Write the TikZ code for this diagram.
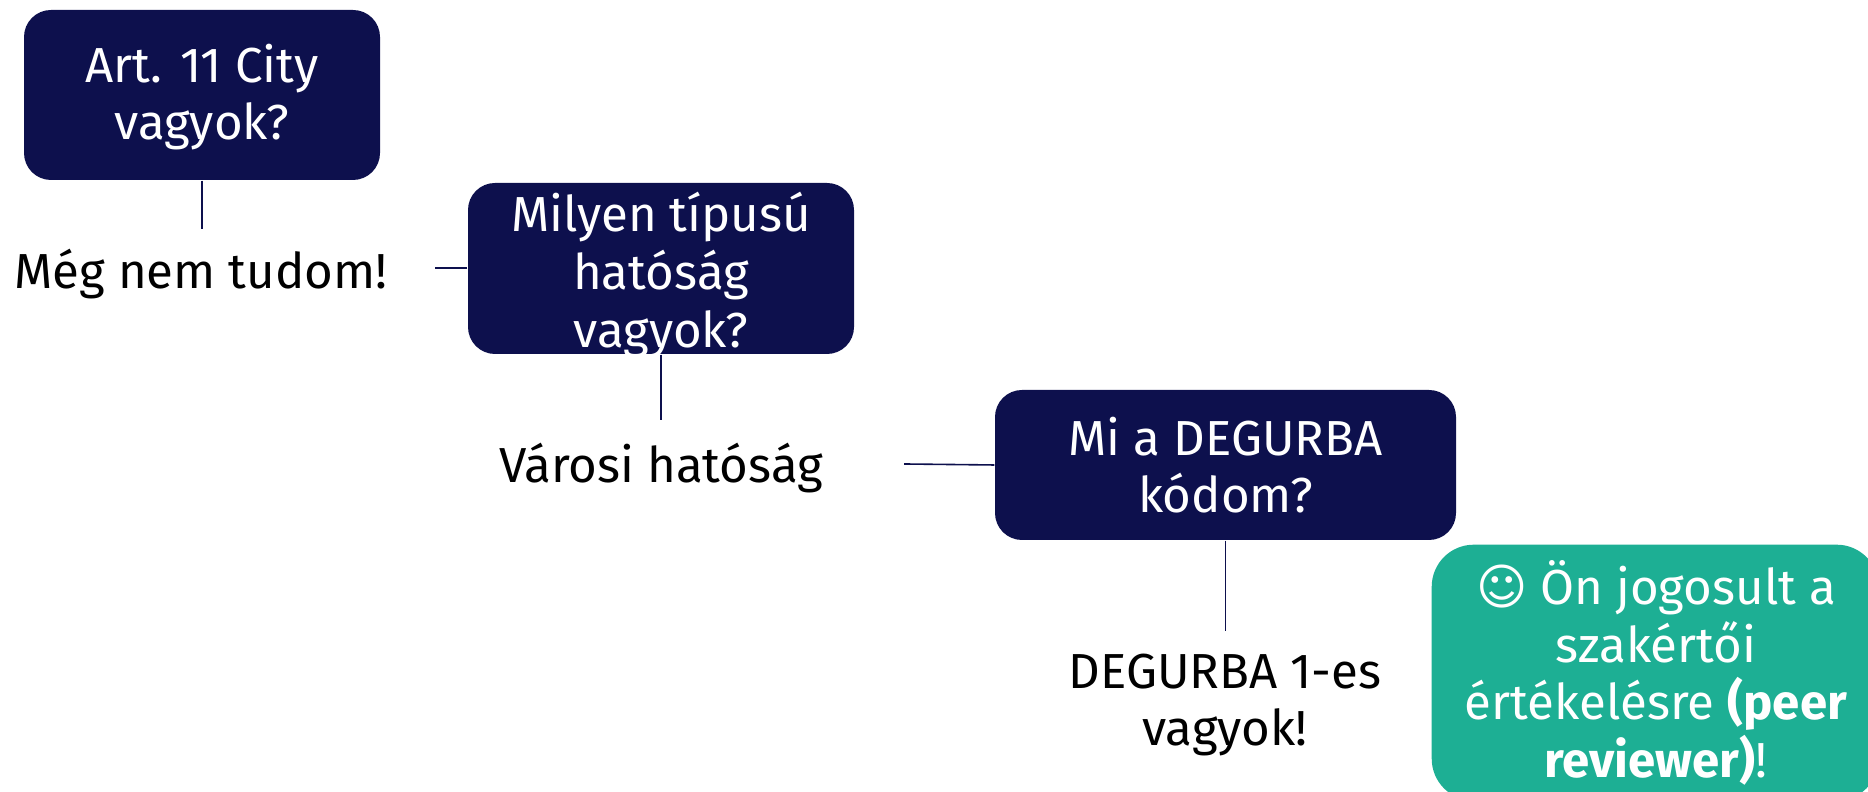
\documentclass[tikz,border=0pt]{standalone}
\usepackage{fontspec}
\setmainfont{Fira Sans}
\newfontfamily\symbolfont{DejaVu Sans}
\definecolor{r13g16b77}{rgb}{0.050980,0.062745,0.301961}
\definecolor{r29g175b148}{rgb}{0.113725,0.686275,0.580392}
\tikzset{
  questionbox/.style={fill=r13g16b77,rounded corners=0.27cm,inner sep=0,text=white,align=center,font=\fontsize{14}{16.4}\selectfont},
  resultbox/.style={fill=r29g175b148,rounded corners=0.42cm,inner sep=0,text=white,align=center,font=\fontsize{14}{16.4}\selectfont},
  answertext/.style={inner sep=0,text=black,align=center,font=\fontsize{14}{16.4}\selectfont},
  joinline/.style={draw=r13g16b77,line width=0.016cm},
}
\begin{document}
\begin{tikzpicture}
\useasboundingbox (0,0) rectangle (18.680000,7.920000);

% Marking box Art. 11
\node (artbox) [questionbox,minimum width=3.560000cm,minimum height=1.700000cm] at (2.020000,6.970000) {\rule{0pt}{12pt}Art. 11 City\\vagyok?};%

% Marking box hatosag
\node (typebox) [questionbox,minimum width=3.860000cm,minimum height=1.710000cm] at (6.610000,5.235000) {};%
\node (typetext) [answertext,text=white] at (6.610000,5.170000) {Milyen típusú\\hatóság\\vagyok?};%

% Marking box DEGURBA
\node (codebox) [questionbox,minimum width=4.610000cm,minimum height=1.500000cm] at (12.255000,3.270000) {Mi a DEGURBA\\kódom?};%

% Filling green box, it runs over the page
\node (resultbox) [resultbox,minimum width=4.470000cm,minimum height=2.560000cm,anchor=north west] at (14.310000,2.480000) {};%
\node (resulttext) [answertext,text=white] at (16.560000,1.190000) {{\symbolfont\char"263A} Ön jogosult a\\szakértői\\értékelésre \textbf{(peer}\\\textbf{reviewer)}!};%

% Marking answers
\node (answerone) [answertext] at (2.010000,5.180000) {Még nem tudom!};%
\node (answertwo) [answertext] at (6.610000,3.240000) {Városi hatóság};%
\node (answerthree) [answertext] at (12.250000,0.870000) {DEGURBA 1-es\\vagyok!};%

% Free ends of the lines
\coordinate (artend) at (artbox.south |- 0,5.630000);%
\coordinate (typeend) at (4.350000,5.240000);%
\coordinate (answerend) at (typebox.south |- 0,3.720000);%
\coordinate (codeend) at (9.040000,3.280000);%
\coordinate (degurbaend) at (codebox.south |- 0,1.610000);%

% Drawing lines
\draw [joinline] (artbox.south) -- (artend);%
\draw [joinline] (typebox.west |- typeend) -- (typeend);%
\draw [joinline] (typebox.south) -- (answerend);%
\draw [joinline] (codebox.west) -- (codeend);%
\draw [joinline] (codebox.south) -- (degurbaend);%
\end{tikzpicture}
\end{document}
